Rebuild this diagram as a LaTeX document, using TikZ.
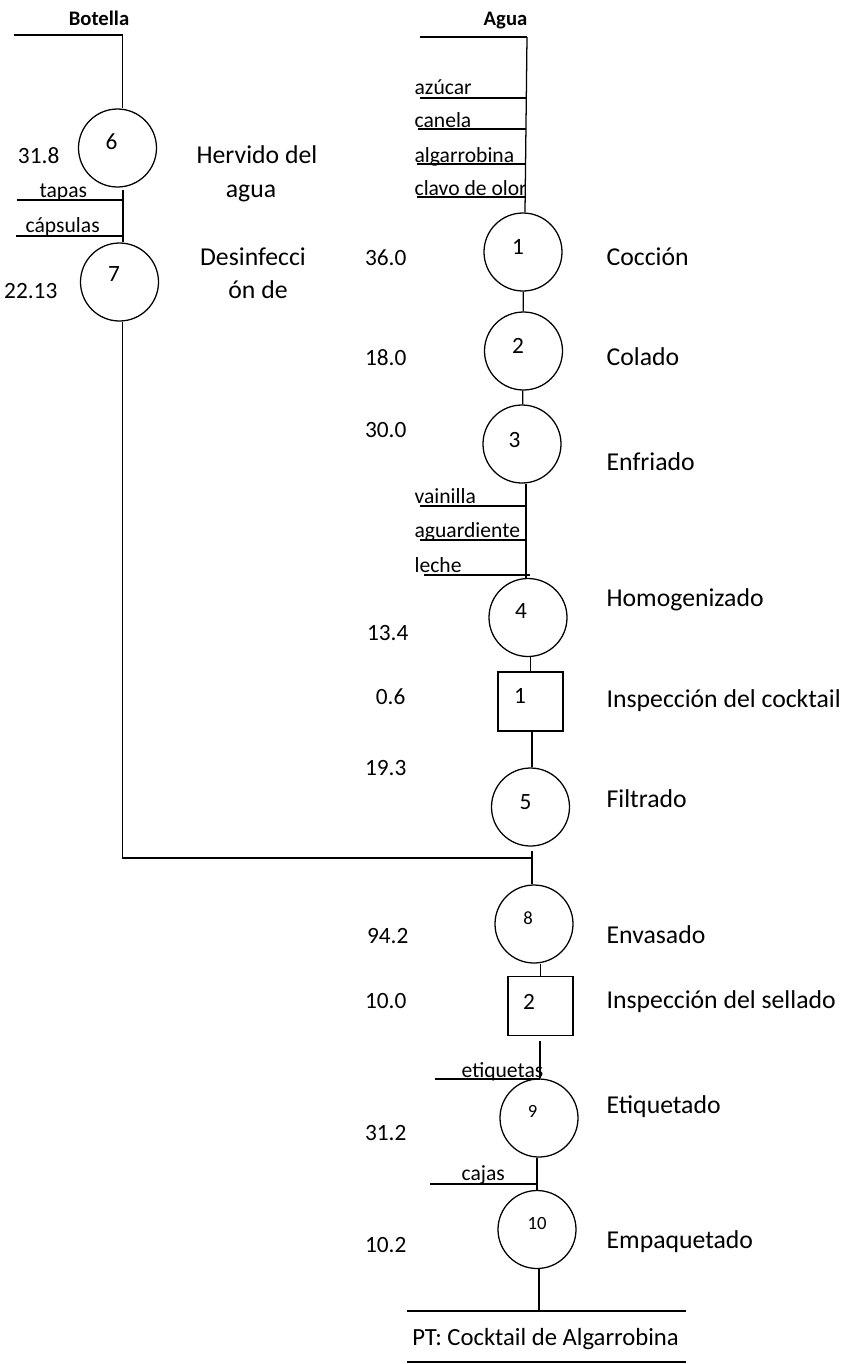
\documentclass[tikz,border=0pt]{standalone}
\usepackage{fontspec}
\setmainfont{Carlito}
\begin{document}
\begin{tikzpicture}[x=0.75pt,y=-0.75pt,line width=0.95pt,
  op/.style={draw, circle, minimum size=58.5pt, inner sep=0pt},
  insp/.style={draw, rectangle, minimum width=48.75pt, minimum height=44.25pt, inner sep=0pt},
  stepname/.style={font=\fontsize{19.3}{22}\selectfont, anchor=base west, inner sep=0pt},
  stepname2/.style={font=\fontsize{19.3}{22}\selectfont, anchor=base, inner sep=0pt},
  time/.style={font=\fontsize{17.5}{20}\selectfont, anchor=base east, inner sep=0pt},
  feed/.style={font=\fontsize{16.2}{19}\selectfont, anchor=base west, inner sep=0pt},
  opnum/.style={font=\fontsize{17.5}{20}\selectfont, inner sep=0pt},
  opnumsm/.style={font=\fontsize{14}{16}\selectfont, inner sep=0pt},
  head/.style={font=\bfseries\fontsize{15.5}{18}\selectfont, anchor=base, inner sep=0pt},
  product/.style={font=\fontsize{18.5}{22}\selectfont, anchor=base, inner sep=0pt}]
\useasboundingbox (0,0) rectangle (844,1364);

% ---------- Botella line ----------
\node[head] (hBot) at (99,25) {Botella};
\node[op] (c6) at (117.5,148) {};
\node[op] (c7) at (119.5,282) {};
\node[opnum] (n6) at (111.5,141.5) {6};
\node[opnum] (n7) at (114,274) {7};
\node[time] (t6) at (60,163) {31.8};
\node[time] (t7) at (58,298) {22.13};
\node[stepname2] (s6a) at (257,163) {Hervido del};
\node[stepname2] (s6b) at (251,197) {agua};
\node[stepname2] (s7a) at (253,265) {Desinfecci};
\node[stepname2] (s7b) at (258,298) {ón de};

\coordinate (botIn) at (14,35);
\coordinate (botJ) at (122.5,35);
\draw (botIn) -- (botJ) -- (botJ |- c6.north);

\coordinate (j6) at (123,190);
\coordinate (tapIn) at (17,200);
\coordinate (capIn) at (16,236);
\draw (j6) -- (j6 |- c7.north);
\draw (tapIn) -- (tapIn -| j6);
\draw (capIn) -- (capIn -| j6);
\node[feed] (ftap) at (39,197) {tapas};
\node[feed] (fcap) at (25,232) {cápsulas};

\coordinate (bend) at (122.5,858);
\coordinate (merge) at (532,858);
\draw (c7.south -| bend) -- (bend) -- (merge);

% ---------- Agua line ----------
\node[head] (hAgua) at (505.5,25) {Agua};
\coordinate (aguaIn) at (420,37);
\coordinate (aguaJ) at (527,37);

\node[op] (c1) at (523,252) {};
\node[op] (c2) at (523.5,351) {};
\node[op] (c3) at (522,444) {};
\node[op] (c4) at (528,617.5) {};
\node[insp] (q1) at (530.5,701.5) {};
\node[op] (c5) at (530.5,807) {};
\node[op] (c8) at (534,924) {};
\node[insp] (q2) at (540.5,1006) {};
\node[op] (c9) at (539,1118) {};
\node[op] (c10) at (537,1229.5) {};

\node[opnum] (n1) at (518,247) {1};
\node[opnum] (n2) at (518,345.5) {2};
\node[opnum] (n3) at (514.5,440) {3};
\node[opnum] (n4) at (521,610.5) {4};
\node[opnum] (nq1) at (520,696) {1};
\node[opnum] (n5) at (525.5,802.5) {5};
\node[opnumsm] (n8) at (528,918.5) {8};
\node[opnum] (nq2) at (529,1001.5) {2};
\node[opnumsm] (n9) at (532.5,1111.5) {9};
\node[opnumsm] (n10) at (537,1223.5) {10};

% trunk and ingredient inputs before cooking
\draw (aguaIn) -- (aguaJ);
\draw (aguaJ) -- (525,212) coordinate (c1top);
\coordinate (azIn) at (420,98);
\coordinate (caIn) at (418,129);
\coordinate (alIn) at (417,164);
\coordinate (clIn) at (417,197);
\draw (azIn) -- (527,98);
\draw (caIn) -- (526,129);
\draw (alIn) -- (525.5,164);
\draw (clIn) -- (525,197);
\node[feed] (fa1) at (414,94) {azúcar};
\node[feed] (fa2) at (414,127) {canela};
\node[feed] (fa3) at (414,162) {algarrobina};
\node[feed] (fa4) at (414,195) {clavo de olor};

\draw (c1) -- (c2);
\draw (c2) -- (c3);

% inputs before homogenizing
\coordinate (j3) at (526,506);
\draw (c3.south -| j3) -- (c4.north -| j3);
\coordinate (vaIn) at (420,506);
\coordinate (agIn) at (420,540);
\coordinate (leIn) at (424,575);
\draw (vaIn) -- (vaIn -| j3);
\draw (agIn) -- (agIn -| j3);
\draw (leIn) -- (530,575);
\node[feed] (fb1) at (414,503) {vainilla};
\node[feed] (fb2) at (414,537) {aguardiente};
\node[feed] (fb3) at (414,572) {leche};

\draw (c4.south -| q1.north) -- (q1.north);
\draw (q1.south -| 532,0) -- (c5.north -| 532,0);
\coordinate (c5gap) at (532,851);
\draw (c5gap) -- (c8.north -| c5gap);
\draw (c8.south -| q2.north) -- (q2.north);

% labels and boxes after the inspection
\coordinate (q2gap) at (540,1041);
\draw (q2gap) -- (c9.north -| q2gap);
\coordinate (etIn) at (435,1079);
\draw (etIn) -- (etIn -| q2gap);
\node[feed] (fc1) at (461,1077) {etiquetas};

\coordinate (j9) at (537,1184);
\draw (c9.south -| j9) -- (c10.north -| j9);
\coordinate (cjIn) at (430,1184);
\draw (cjIn) -- (j9);
\node[feed] (fc2) at (461,1180) {cajas};

\coordinate (ptTop) at (539,1311);
\draw (c10.south -| ptTop) -- (ptTop);
\coordinate (ptL) at (407,1311);
\coordinate (ptR) at (686,1311);
\draw (ptL) -- (ptR);
\node[product] (pt) at (545.5,1345) {PT: Cocktail de Algarrobina};
\coordinate (ptL2) at (407,1362);
\coordinate (ptR2) at (686,1362);
\draw[line width=1.3pt] (ptL2) -- (ptR2);

% ---------- times ----------
\node[time] (t1) at (407,265) {36.0};
\node[time] (t2) at (407,365) {18.0};
\node[time] (t3) at (407,437) {30.0};
\node[time] (t4) at (409,640) {13.4};
\node[time] (tq1) at (406,704) {0.6};
\node[time] (t5) at (407,775) {19.3};
\node[time] (t8) at (409,943) {94.2};
\node[time] (tq2) at (407,1008) {10.0};
\node[time] (t9) at (407,1140) {31.2};
\node[time] (t10) at (407,1252) {10.2};

% ---------- step names ----------
\node[stepname] (s1) at (606,265) {Cocción};
\node[stepname] (s2) at (606,365) {Colado};
\node[stepname] (s3) at (606,470) {Enfriado};
\node[stepname] (s4) at (606,606) {Homogenizado};
\node[stepname] (sq1) at (606,707) {Inspección del cocktail};
\node[stepname] (s5) at (606,807) {Filtrado};
\node[stepname] (s8) at (606,943) {Envasado};
\node[stepname] (sq2) at (606,1008) {Inspección del sellado};
\node[stepname] (s9) at (606,1113) {Etiquetado};
\node[stepname] (s10) at (606,1248) {Empaquetado};
\end{tikzpicture}
\end{document}
